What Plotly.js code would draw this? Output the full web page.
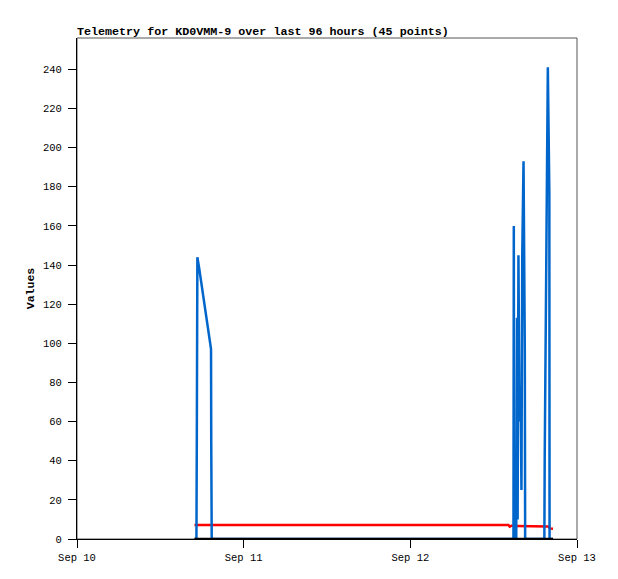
<!DOCTYPE html>
<html>
<head>
<meta charset="utf-8">
<script src="https://cdn.plot.ly/plotly-3.0.1.min.js"></script>
<style>
  html, body { margin: 0; padding: 0; background: #ffffff; }
  #chart { width: 618px; height: 579px; }
</style>
</head>
<body>
<div id="chart"></div>
<script>
// Timestamps of the 45 telemetry points
var times = [
  "2024-09-10 16:55", "2024-09-10 17:12", "2024-09-10 17:15", "2024-09-10 17:20",
  "2024-09-10 17:34", "2024-09-10 17:51", "2024-09-10 18:09", "2024-09-10 18:26",
  "2024-09-10 18:43", "2024-09-10 19:00", "2024-09-10 19:18", "2024-09-10 19:20",
  "2024-09-10 19:24", "2024-09-10 19:35",
  "2024-09-12 14:08", "2024-09-12 14:19", "2024-09-12 14:34", "2024-09-12 14:51",
  "2024-09-12 14:54", "2024-09-12 14:57", "2024-09-12 15:15", "2024-09-12 15:16",
  "2024-09-12 15:22", "2024-09-12 15:27", "2024-09-12 15:34", "2024-09-12 15:43",
  "2024-09-12 15:53", "2024-09-12 16:00", "2024-09-12 16:07", "2024-09-12 16:18",
  "2024-09-12 16:29", "2024-09-12 16:32", "2024-09-12 17:14", "2024-09-12 17:48",
  "2024-09-12 18:23", "2024-09-12 18:49", "2024-09-12 19:18", "2024-09-12 19:21",
  "2024-09-12 19:30", "2024-09-12 19:38", "2024-09-12 19:48", "2024-09-12 20:01",
  "2024-09-12 20:03", "2024-09-12 20:15", "2024-09-12 20:33"
];

// Blue channel
var blueValues = [
  0, 0, 48, 144, 139, 132, 125, 118, 111, 104, 97, 48, 0, 0,
  0, 0, 0, 0, 160, 0, 0, 36, 113, 10, 145, 60, 78, 25, 145, 193,
  97, 0, 0, 0, 0, 0, 0, 41, 121, 200, 241, 177, 0, 0, 0
];

// Red channel
var redValues = [
  7.2, 7.2, 7.2, 7.2, 7.2, 7.2, 7.2, 7.2, 7.2, 7.2, 7.2, 7.2, 7.2, 7.2,
  7.2, 6.3, 6.8, 6.8, 6.6, 6.6, 6.6, 6.6, 6.6, 6.6, 6.6, 6.6, 6.6, 6.6, 6.6, 6.6,
  6.6, 6.6, 6.5, 6.5, 6.5, 6.5, 6.5, 6.5, 6.5, 6.5, 6.4, 6.0, 5.5, 5.3, 5.2
];

// Black channel
var blackValues = [
  0, 0, 0, 0, 0, 0, 0, 0, 0, 0, 0, 0, 0, 0,
  0, 0, 0, 0, 0, 0, 0, 0, 0, 0, 0, 0, 0, 0, 0, 0,
  0, 0, 0, 0, 0, 0, 0, 0, 0, 0, 0, 0, 0, 0, 0
];

var xRange = ["2024-09-10 00:00", "2024-09-13 00:00"];
var yRange = [0, 256];
var yTicks = [0, 20, 40, 60, 80, 100, 120, 140, 160, 180, 200, 220, 240];

var titleText = "Telemetry for KD0VMM-9 over last 96 hours (45 points)";
var yTitle = "Values";

var mono = "Liberation Mono, DejaVu Sans Mono, monospace";

var traces = [
  { x: times, y: redValues, type: "scatter", mode: "lines",
    line: { color: "#ff0000", width: 2.5 }, hoverinfo: "skip" },
  { x: times, y: blueValues, type: "scatter", mode: "lines",
    line: { color: "#0066cc", width: 2.5 }, hoverinfo: "skip" },
  { x: times, y: blackValues, type: "scatter", mode: "lines",
    line: { color: "#000000", width: 2.5 }, hoverinfo: "skip" }
];

var layout = {
  width: 618,
  height: 579,
  margin: { l: 77, r: 41, t: 38, b: 40, pad: 0 },
  paper_bgcolor: "#ffffff",
  plot_bgcolor: "#ffffff",
  showlegend: false,
  title: {
    text: "<b>" + titleText + "</b>",
    font: { family: mono, size: 11.7, color: "#000000" },
    xref: "container", yref: "container",
    x: 77 / 618, xanchor: "left",
    y: 1 - 31 / 579, yanchor: "middle"
  },
  xaxis: {
    type: "date",
    range: xRange,
    tickformat: "%b %d",
    dtick: 86400000,
    tick0: "2024-09-10",
    ticks: "outside",
    ticklen: 8,
    tickcolor: "#000000",
    tickwidth: 1,
    showline: true,
    linecolor: "#000000",
    linewidth: 1,
    showgrid: false,
    zeroline: false,
    tickfont: { family: mono, size: 10.5, color: "#000000" },
    fixedrange: true
  },
  yaxis: {
    range: yRange,
    tickmode: "array",
    tickvals: yTicks,
    ticktext: yTicks.map(String),
    ticks: "outside",
    ticklen: 8,
    tickcolor: "#000000",
    tickwidth: 1,
    ticklabelstandoff: 4,
    showline: true,
    linecolor: "#000000",
    linewidth: 1,
    showgrid: false,
    zeroline: false,
    tickfont: { family: mono, size: 10.5, color: "#000000" },
    title: {
      text: "<b>" + yTitle + "</b>",
      font: { family: mono, size: 11.5, color: "#000000" },
      standoff: 5
    },
    fixedrange: true
  },
  shapes: [
    { type: "rect", xref: "paper", yref: "paper", x0: 0, x1: 1, y0: 0, y1: 1,
      line: { color: "#555555", width: 1 }, fillcolor: "rgba(0,0,0,0)", layer: "below" }
  ]
};

Plotly.newPlot("chart", traces, layout, { staticPlot: true, displayModeBar: false });
</script>
</body>
</html>
